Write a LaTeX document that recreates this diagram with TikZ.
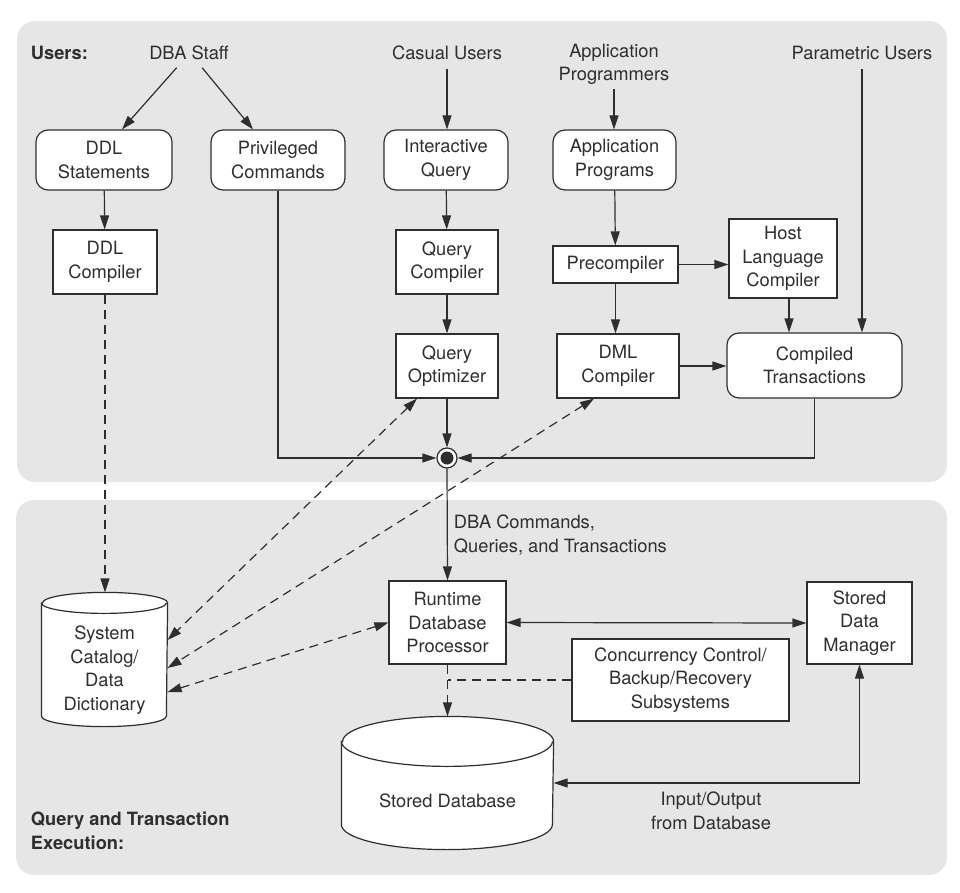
\documentclass[tikz,border=0pt]{standalone}
\usepackage{fontspec}
\setmainfont{TeX Gyre Heros}
\usetikzlibrary{positioning, calc, arrows.meta}

\definecolor{panelgray}{HTML}{E6E6E6}
\definecolor{inkgray}{HTML}{2E2E2E}
\newcommand{\dbfont}{\fontsize{18.3}{23.5}\selectfont}
% cylinder outline round a named node: node, x radius, y radius
\newcommand{\drawcyl}[3]{%
  \draw[fill=white] ([yshift=-#3]#1.north west) -- ([yshift=#3]#1.south west)
    arc[start angle=180, end angle=360, x radius=#2, y radius=#3]
    -- ([yshift=-#3]#1.north east)
    arc[start angle=0, end angle=180, x radius=#2, y radius=#3] -- cycle;
  \draw ([yshift=-#3]#1.north west) arc[start angle=180, end angle=360, x radius=#2, y radius=#3];}

\begin{document}
\begin{tikzpicture}[x=1pt, y=-1pt, color=inkgray, line width=1.2pt,
    every node/.style={font=\dbfont, align=center},
    >={Triangle[length=14pt,width=9pt]},
    rbox/.style={draw, fill=white, rounded corners=12pt, inner sep=2pt},
    sbox/.style={draw, fill=white, inner sep=2pt},
    cylbox/.style={inner sep=0pt},
    dsh/.style={dash pattern=on 9pt off 6pt}]

    \useasboundingbox (0,0) rectangle (960,893);

    % Background panels
    \fill[panelgray, rounded corners=18pt] (17,21) rectangle (947,482);
    \fill[panelgray, rounded corners=18pt] (16,500) rectangle (947,875);

    % Users row
    \node[font=\dbfont\bfseries, anchor=west] (users) at (27,53) {Users:};
    \node (dba) at (189,53) {DBA Staff};
    \node (casual) at (447,53) {Casual Users};
    \node (appprog) at (614,64.5) {Application\\Programmers};
    \node (param) at (862,53) {Parametric Users};

    % Boxes of the upper panel
    \node[rbox, minimum width=136pt, minimum height=60pt] (ddl) at (104,160) {DDL\\Statements};
    \node[rbox, minimum width=134pt, minimum height=60pt] (priv) at (278,160) {Privileged\\Commands};
    \node[rbox, minimum width=124pt, minimum height=60pt] (inter) at (446,160) {Interactive\\Query};
    \node[rbox, minimum width=123pt, minimum height=60pt] (apps) at (614.5,160) {Application\\Programs};
    \node[sbox, minimum width=104pt, minimum height=64pt] (ddlc) at (105,262) {DDL\\Compiler};
    \node[sbox, minimum width=102pt, minimum height=64pt] (qcomp) at (447,262) {Query\\Compiler};
    \node[sbox, minimum width=102pt, minimum height=64pt] (qopt) at (447,366) {Query\\Optimizer};
    \node[sbox, minimum width=125pt, minimum height=37pt] (precomp) at (615.5,264.5) {Precompiler};
    \node[sbox, minimum width=108pt, minimum height=79pt] (host) at (783,258.5) {Host\\Language\\Compiler};
    \node[sbox, minimum width=122pt, minimum height=64pt] (dml) at (618,366) {DML\\Compiler};
    \node[rbox, minimum width=175pt, minimum height=65pt] (trans) at (814.5,365.5) {Compiled\\Transactions};
    \node[circle, draw, fill=white, minimum size=20pt, inner sep=0pt,
        path picture={\fill[inkgray] (path picture bounding box.center) circle (6.5pt);}] (junc) at (447,458) {};

    % Lower panel
    \node[font=\dbfont\bfseries, anchor=west, align=left] (qte) at (27,831) {Query and Transaction\\Execution:};
    \node[sbox, minimum width=117pt, minimum height=83pt] (rt) at (447.5,622.5) {Runtime\\Database\\Processor};
    \node[sbox, minimum width=105pt, minimum height=82pt] (sdm) at (859.5,623) {Stored\\Data\\Manager};
    \node[sbox, minimum width=217pt, minimum height=82pt] (conc) at (680.5,680) {Concurrency Control/\\Backup/Recovery\\Subsystems};
    \node[cylbox, minimum width=125pt, minimum height=133pt] (cat) at (104.5,659.5) {};
    \drawcyl{cat}{62.5pt}{10.5pt}
    \node (catlbl) at (104.5,670) {System\\Catalog/\\Data\\Dictionary};
    \node[cylbox, minimum width=211pt, minimum height=132pt] (sdb) at (447.5,783) {};
    \drawcyl{sdb}{105.5pt}{25pt}
    \node (sdblbl) at (447.5,801) {Stored Database};
    \node[anchor=west, align=left] (cmds) at (450,535) {DBA Commands,\\Queries, and Transactions};
    \node (iolbl) at (711,811) {Input/Output\\from Database};

    % Arrows of the upper panel
    \draw[->, shorten <=5pt] ([xshift=-9pt]dba.south) -- ([xshift=18pt]ddl.north);
    \draw[->, shorten <=5pt] ([xshift=10pt]dba.south) -- ([xshift=-25pt]priv.north);
    \draw[->, shorten <=5pt] (casual.south) -- (casual.south |- inter.north);
    \draw[->] (appprog.south) -- (appprog.south |- apps.north);
    \draw[->, shorten <=5pt] (param.south) -- (param.south |- trans.north);
    \draw[->] (ddl) -- (ddlc);
    \draw[->] (inter) -- (qcomp);
    \draw[->] (qcomp) -- (qopt);
    \draw[->] (apps) -- (precomp);
    \draw[->] (precomp.east) -- (precomp.east -| host.west);
    \draw[->] (precomp.south) -- (precomp.south |- dml.north);
    \draw[->] ([xshift=6pt]host.south) -- ([xshift=6pt]host.south |- trans.north);
    \draw[->] (dml.east) -- (dml.east -| trans.west);

    % Into the junction and down
    \draw[->] (priv.south) |- (junc.west);
    \draw[->] (qopt.south) -- (junc.north);
    \draw[->] (trans.south) |- (junc.east);
    \draw[->] (junc.south) -- (rt.north);

    % Arrows of the lower panel
    \draw[<->] (rt.east) -- (sdm.west);
    \draw[<->] (sdb.east) -| (sdm.south);
    \draw[->, dsh] (rt.south) -- (sdb.north);
    \draw[dsh] (conc.west) -- (conc.west -| rt.south);

    % Dashed links to the catalog
    \draw[->, dsh] (ddlc.south) -- (ddlc.south |- cat.north);
    \draw[<->, dsh] ([xshift=-30pt]qopt.south) -- ([yshift=19.5pt]cat.east);
    \draw[<->, dsh] ([xshift=-24pt]dml.south) -- ([yshift=-8.5pt]cat.east);
    \draw[<->, dsh] (rt.west) -- ([yshift=-32.5pt]cat.east);

\end{tikzpicture}
\end{document}
